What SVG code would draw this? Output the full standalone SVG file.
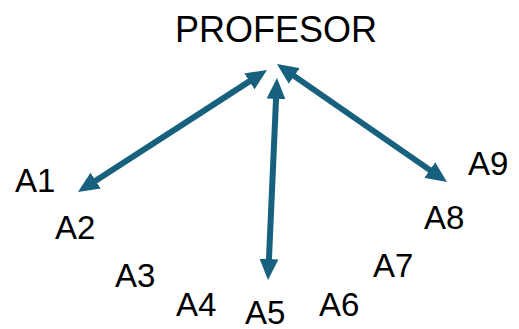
<svg xmlns="http://www.w3.org/2000/svg" width="519" height="329" viewBox="0 0 519 329">
<style>
text{font-family:"Liberation Sans",Arial,sans-serif;fill:#000}
.t{font-size:36px}
.a{font-size:33px}
.c{stroke:#17617f;stroke-width:6;fill:none}
</style>
<defs>
<marker id="ah" markerUnits="userSpaceOnUse" markerWidth="21" markerHeight="19" refX="6" refY="9.5" orient="auto-start-reverse">
<path d="M0,0 L21,9.5 L0,19 z" fill="#17617f"/>
</marker>
</defs>
<rect width="519" height="329" fill="#fff"/>
<g id="profesor"><text class="t" x="175" y="42">PROFESOR</text></g>
<g id="a1"><text class="a" x="15" y="192">A1</text></g>
<g id="a2"><text class="a" x="55" y="239">A2</text></g>
<g id="a3"><text class="a" x="115" y="287">A3</text></g>
<g id="a4"><text class="a" x="176" y="316">A4</text></g>
<g id="a5"><text class="a" x="245" y="324">A5</text></g>
<g id="a6"><text class="a" x="319" y="316">A6</text></g>
<g id="a7"><text class="a" x="373" y="277">A7</text></g>
<g id="a8"><text class="a" x="424" y="229">A8</text></g>
<g id="a9"><text class="a" x="468" y="175">A9</text></g>
<g id="connectors">
<line class="c" x1="90.6" y1="183.9" x2="254.4" y2="78.1" marker-start="url(#ah)" marker-end="url(#ah)"/>
<line class="c" x1="268.7" y1="265" x2="276.3" y2="93" marker-start="url(#ah)" marker-end="url(#ah)"/>
<line class="c" x1="434.7" y1="173.4" x2="289.3" y2="72.6" marker-start="url(#ah)" marker-end="url(#ah)"/>
</g>
</svg>
